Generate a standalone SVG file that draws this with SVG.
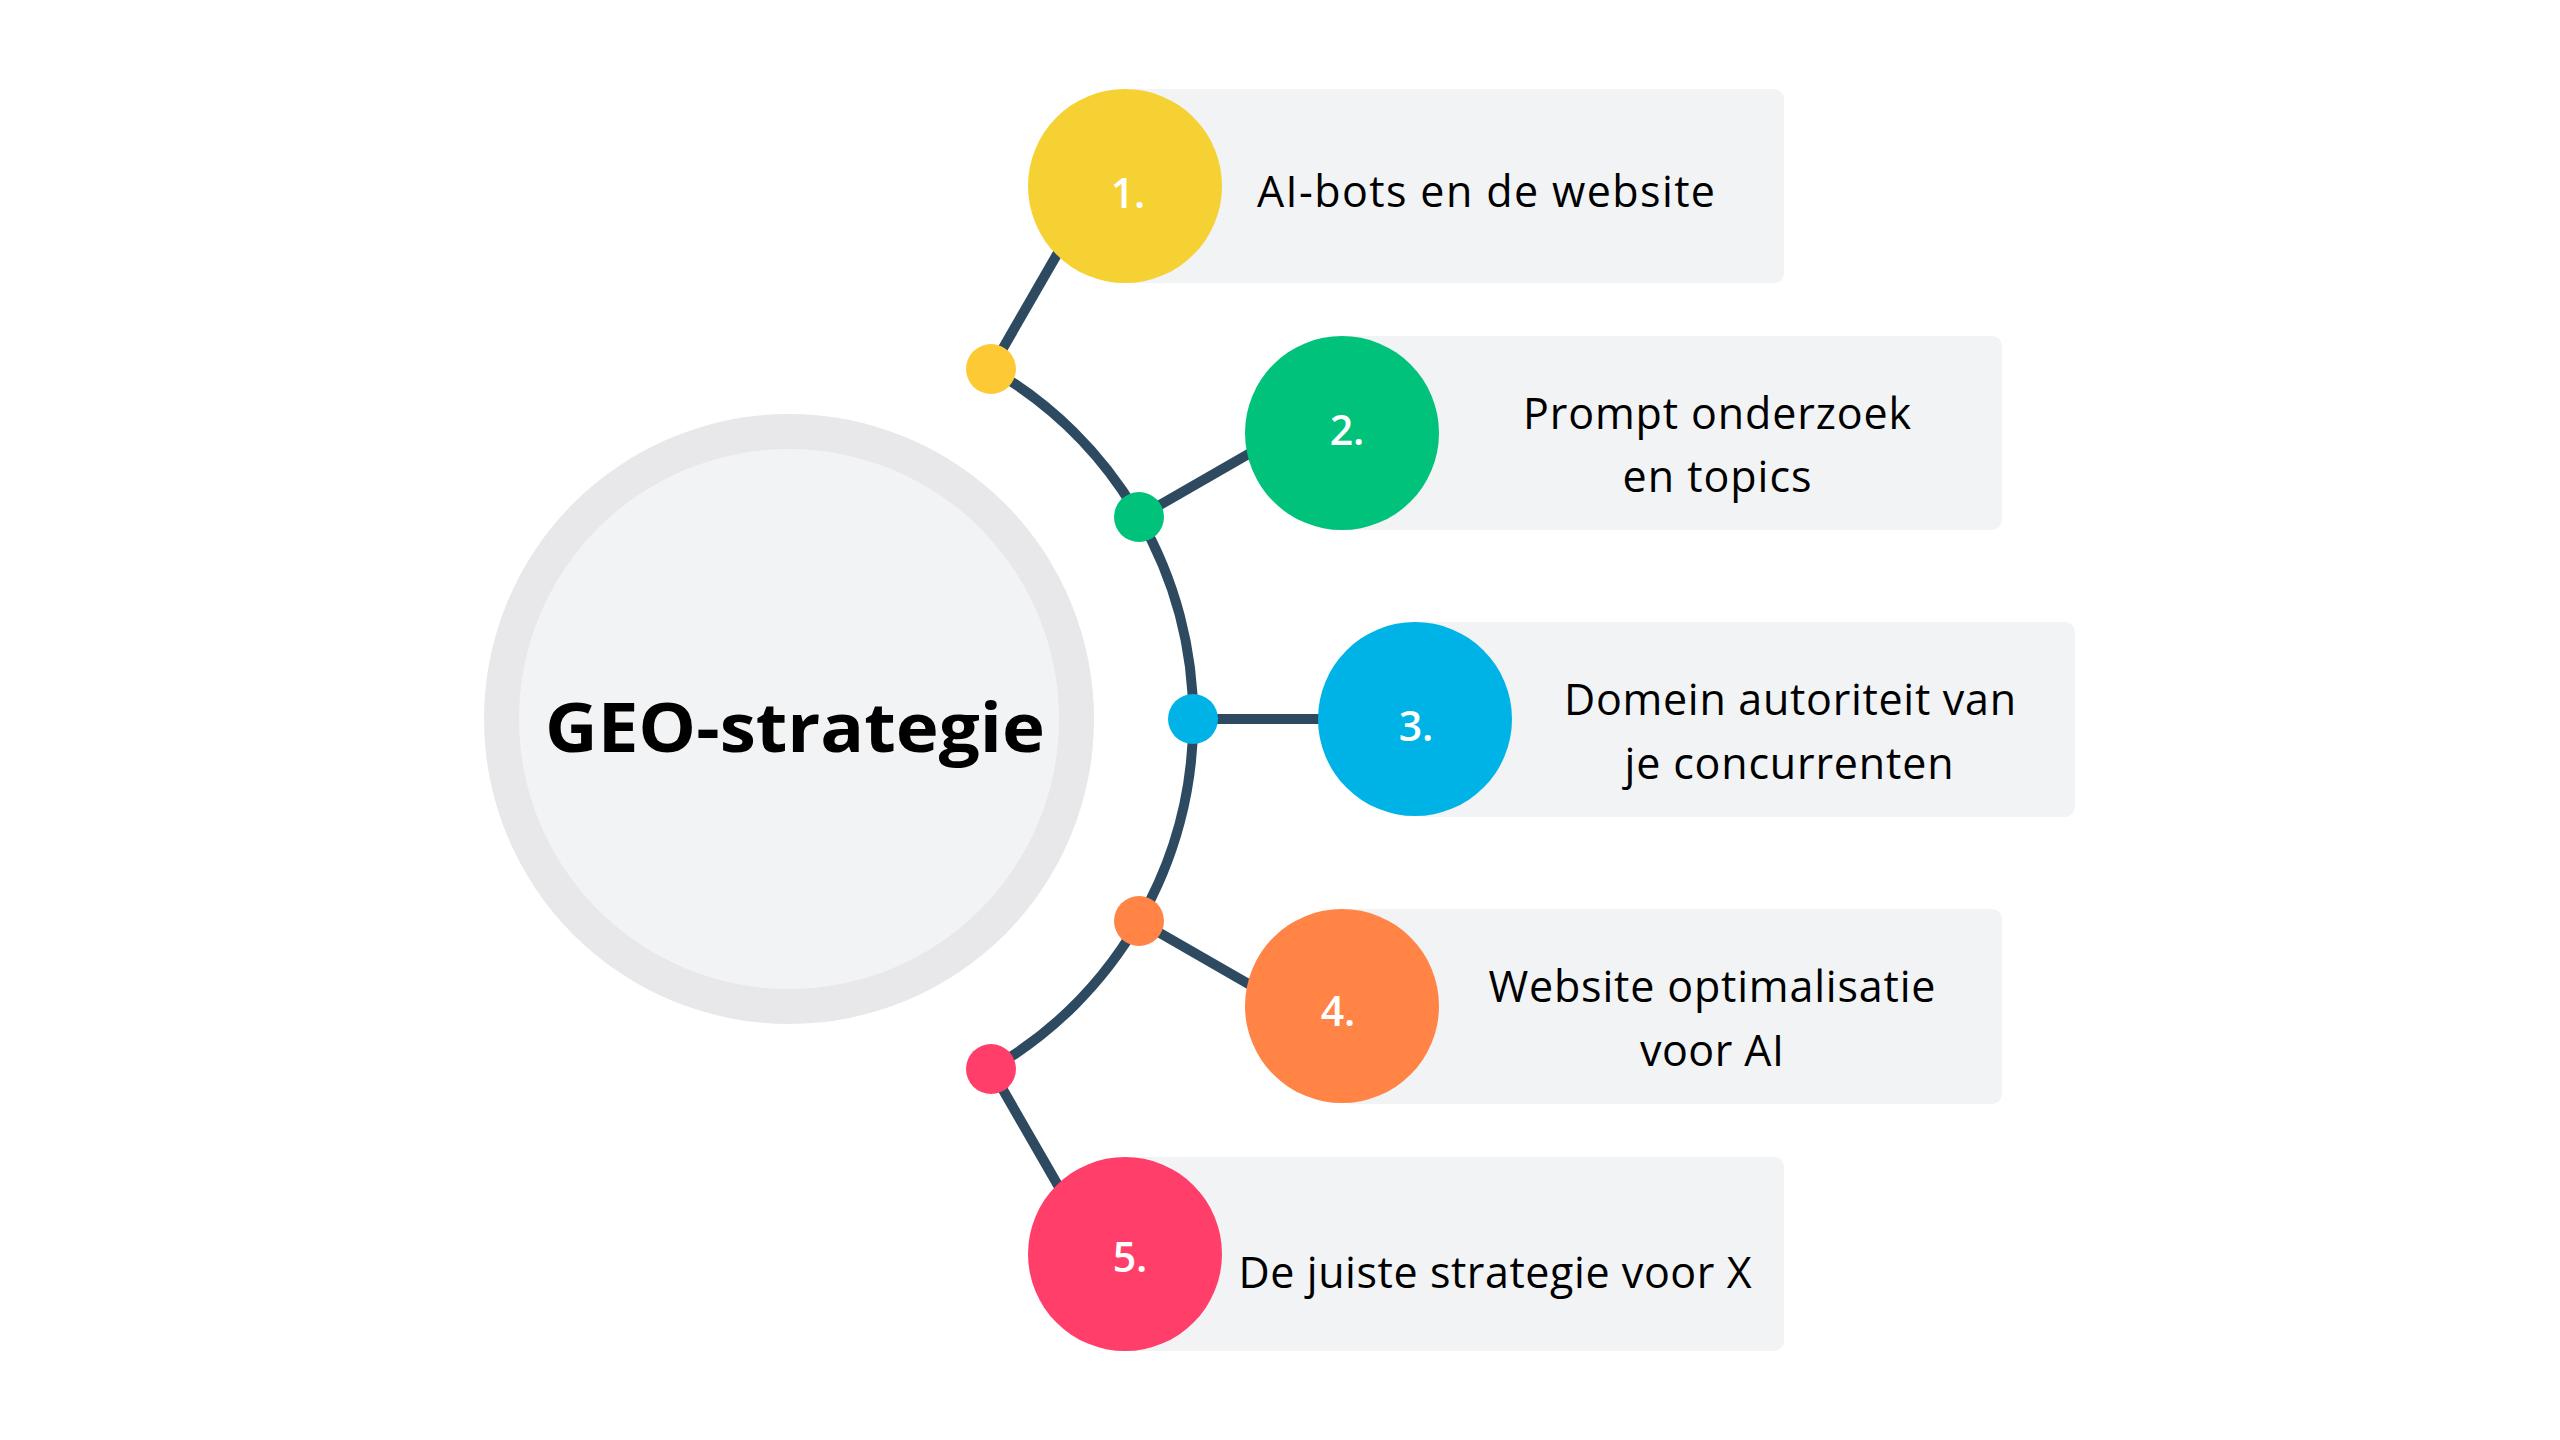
<svg xmlns="http://www.w3.org/2000/svg" width="2560" height="1440" viewBox="0 0 2560 1440">
<style>
.box{fill:#f2f3f5}
.lbl{font-family:"Open Sans","Noto Sans",sans-serif;font-size:43px;fill:#000;text-anchor:middle}
.num{font-family:"Open Sans","Noto Sans",sans-serif;font-size:41px;font-weight:600;fill:#fff;text-anchor:middle}
.ln{stroke:#2e4a61;stroke-width:10;fill:none}
</style>
<rect width="2560" height="1440" fill="#fff"/>
<g id="center">
<circle cx="789" cy="719" r="305" fill="#e8e8ea"/>
<circle cx="789" cy="719" r="270" fill="#f2f3f5"/>
<text x="795" y="752" font-family="'Open Sans','Noto Sans',sans-serif" font-size="68" font-weight="700" text-anchor="middle" fill="#000" textLength="500" lengthAdjust="spacingAndGlyphs">GEO-strategie</text>
</g>
<g id="connectors">
<path class="ln" d="M991 369 A404 404 0 0 1 991 1069"/>
<line class="ln" x1="991" y1="369" x2="1101" y2="178"/>
<line class="ln" x1="1139" y1="517" x2="1330" y2="407"/>
<line class="ln" x1="1193" y1="719" x2="1400" y2="719"/>
<line class="ln" x1="1139" y1="921" x2="1330" y2="1031"/>
<line class="ln" x1="991" y1="1069" x2="1101" y2="1260"/>
<circle cx="991" cy="369" r="25" fill="#fdc935"/>
<circle cx="1139" cy="517" r="25" fill="#00c27a"/>
<circle cx="1193" cy="719" r="25" fill="#00b3e6"/>
<circle cx="1139" cy="921" r="25" fill="#ff8445"/>
<circle cx="991" cy="1069" r="25" fill="#ff3f69"/>
</g>
<g id="node1">
<rect class="box" x="1125" y="89" width="659" height="194" rx="10"/>
<circle cx="1125" cy="186" r="97" fill="#f5d134"/>
<text class="num" x="1128" y="208">1.</text>
<text class="lbl" x="1486" y="207" textLength="458">AI-bots en de website</text>
</g>
<g id="node2">
<rect class="box" x="1342" y="336" width="660" height="194" rx="10"/>
<circle cx="1342" cy="433" r="97" fill="#00c27a"/>
<text class="num" x="1347" y="445">2.</text>
<text class="lbl" x="1717" y="429" textLength="388">Prompt onderzoek</text>
<text class="lbl" x="1717" y="492" textLength="189">en topics</text>
</g>
<g id="node3">
<rect class="box" x="1415" y="622" width="660" height="195" rx="10"/>
<circle cx="1415" cy="719" r="97" fill="#00b3e6"/>
<text class="num" x="1416" y="741">3.</text>
<text class="lbl" x="1790" y="715" textLength="452">Domein autoriteit van</text>
<text class="lbl" x="1789" y="779" textLength="329">je concurrenten</text>
</g>
<g id="node4">
<rect class="box" x="1342" y="909" width="660" height="195" rx="10"/>
<circle cx="1342" cy="1006" r="97" fill="#ff8445"/>
<text class="num" x="1338" y="1026">4.</text>
<text class="lbl" x="1712" y="1002" textLength="447">Website optimalisatie</text>
<text class="lbl" x="1712" y="1066" textLength="144">voor AI</text>
</g>
<g id="node5">
<rect class="box" x="1125" y="1157" width="659" height="194" rx="10"/>
<circle cx="1125" cy="1254" r="97" fill="#ff3f69"/>
<text class="num" x="1130" y="1272">5.</text>
<text class="lbl" x="1495" y="1288" textLength="513">De juiste strategie voor X</text>
</g>
</svg>
